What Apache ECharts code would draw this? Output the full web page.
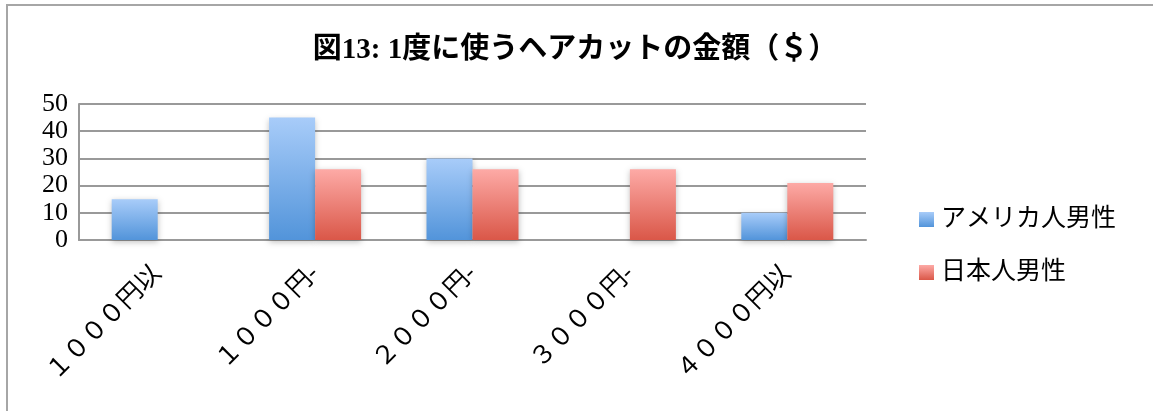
<!DOCTYPE html>
<html><head><meta charset="utf-8">
<script src="https://cdn.jsdelivr.net/npm/echarts@6/dist/echarts.min.js"></script>
<style>html,body{margin:0;padding:0;background:#fff}#c{width:1153px;height:411px}</style>
</head><body><div id="c"></div>
<script>
const categories = ['１０００円以', '１０００円-', '２０００円-', '３０００円-', '４０００円以'];
const usMen = [15, 45, 30, null, 10];
const jpMen = [null, 26, 26, 26, 21];
const yTicks = [0, 10, 20, 30, 40, 50];
const titleText = '図13: 1度に使うヘアカットの金額（＄）';
const seriesNames = ['アメリカ人男性', '日本人男性'];

const serif = '"Liberation Serif", "DejaVu Serif", "Noto Sans CJK JP", serif';
const chart = echarts.init(document.getElementById('c'));
function grad(top, bottom) {
  return new echarts.graphic.LinearGradient(0, 0, 0, 1, [{offset: 0, color: top}, {offset: 1, color: bottom}]);
}
chart.setOption({
  animation: false,
  title: {
    text: titleText, left: 570, top: 31, textAlign: 'center',
    textStyle: {fontFamily: serif, fontWeight: 'bold', fontSize: 29, color: '#000'}
  },
  graphic: [{
    type: 'polyline', shape: {points: [[7, 420], [7, 5], [1160, 5]]},
    style: {stroke: '#a6a6a6', lineWidth: 2, fill: null}, silent: true
  }],
  legend: {
    orient: 'vertical', left: 914, top: 202, itemGap: 28,
    itemWidth: 15, itemHeight: 15, icon: 'rect',
    textStyle: {fontFamily: serif, fontSize: 25, color: '#000', padding: [0, 0, 0, 2]},
    data: seriesNames
  },
  grid: {left: 79, right: 1153 - 866, top: 104, bottom: 411 - 240, containLabel: false},
  xAxis: {
    type: 'category', data: categories,
    axisLine: {show: true, lineStyle: {color: '#999', width: 2}},
    axisTick: {show: false},
    axisLabel: {
      rotate: 45, fontFamily: serif, fontSize: 25, color: '#000', margin: 30, interval: 0
    }
  },
  yAxis: {
    type: 'value', min: 0, max: 50, interval: 10,
    axisLine: {show: true, lineStyle: {color: '#999', width: 2}},
    axisTick: {show: false},
    splitLine: {lineStyle: {color: '#999', width: 2}},
    axisLabel: {fontFamily: serif, fontSize: 26, color: '#000', margin: 11,
      formatter: v => yTicks.includes(v) ? String(v) : ''}
  },
  series: [
    {name: seriesNames[0], type: 'bar', data: usMen, barWidth: 46, barGap: '0%',
     itemStyle: {color: grad('#a8ccf9', '#5294da'), shadowColor: 'rgba(0,0,0,0.25)', shadowBlur: 6, shadowOffsetY: 2}},
    {name: seriesNames[1], type: 'bar', data: jpMen, barWidth: 46, barGap: '0%',
     itemStyle: {color: grad('#fdaaa6', '#da5748'), shadowColor: 'rgba(0,0,0,0.25)', shadowBlur: 6, shadowOffsetY: 2}}
  ]
});
</script></body></html>
